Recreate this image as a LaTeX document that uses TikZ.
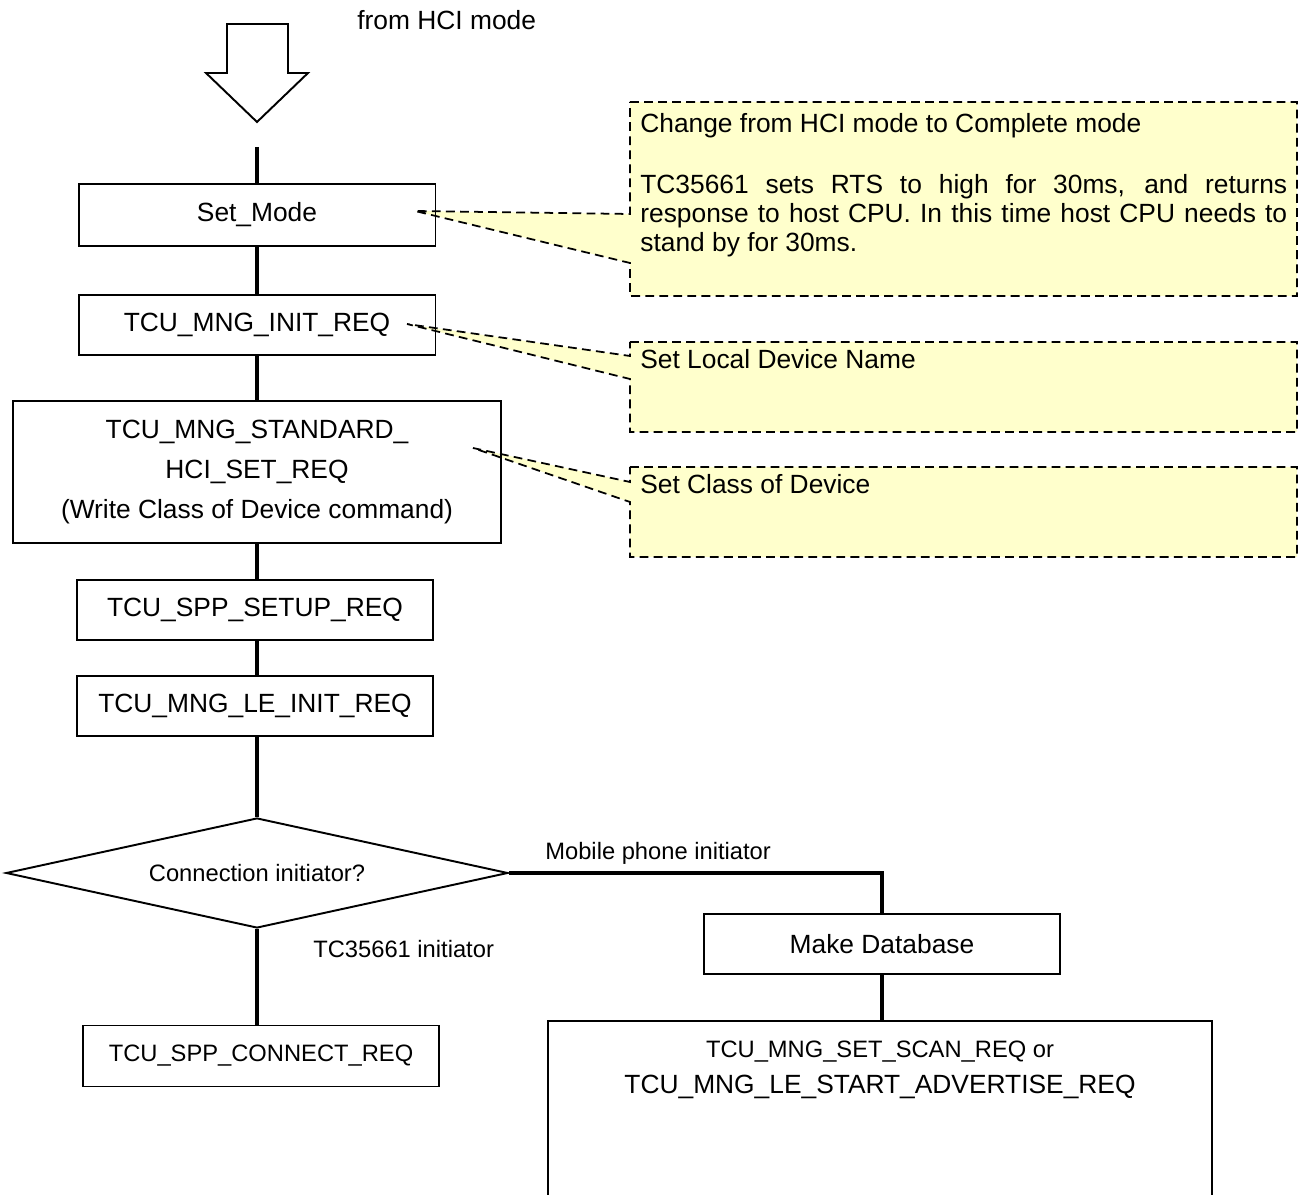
\documentclass[tikz,border=0pt]{standalone}
\usepackage{fontspec}
\setmainfont{Liberation Sans}
\definecolor{notefill}{RGB}{255, 255, 204}
\usetikzlibrary{shapes.geometric, positioning, calc}
\tikzset{
    procbox/.style={rectangle, draw=black, line width=1.1pt, inner sep=0pt,
                    minimum width=7.14cm, minimum height=1.2cm, align=center,
                    font=\fontsize{15}{18}\selectfont},
    decbox/.style={diamond, draw=black, line width=1.1pt, aspect=4.5, inner sep=0pt,
                   minimum width=10.04cm, minimum height=2.2cm,
                   font=\fontsize{13.5}{16}\selectfont},
    flowline/.style={line width=2.2pt, black},
    notebox/.style={fill=notefill, draw=black, line width=1pt, dash pattern=on 5pt off 3pt},
    notetext/.style={anchor=north west, inner sep=0pt, text width=12.94cm, align=justify,
                     font=\fontsize{15}{16.5}\selectfont},
    branchlabel/.style={inner sep=0pt, font=\fontsize{13.5}{16}\selectfont},
}

\begin{document}
\begin{tikzpicture}[x=0.02cm, y=-0.02cm]
            \useasboundingbox (0,0) rectangle (1299,1195);

            % notes
            \coordinate (tip1) at (415,211);
            \coordinate (tip2) at (407,324);
            \coordinate (tip3) at (473,448);
            \draw[notebox] (630,102) -- (1297,102) -- (1297,296) -- (630,296) -- (630,263) -- (tip1) -- (630,214) -- cycle;
            \draw[notebox] (630,342) -- (1297,342) -- (1297,432) -- (630,432) -- (630,379) -- (tip2) -- (630,356) -- cycle;
            \draw[notebox] (630,467) -- (1297,467) -- (1297,557) -- (630,557) -- (630,502) -- (tip3) -- (630,482) -- cycle;
            \node[notetext] (note1) at (640,113) {Change from HCI mode to Complete mode\\[18.5pt]
                TC35661 sets RTS to high for 30ms, and returns\linebreak response to host CPU. In this time host CPU needs to\linebreak stand by for 30ms.};
            \node[notetext] (note2) at (640,349) {Set Local Device Name};
            \node[notetext] (note3) at (640,474) {Set Class of Device};

            % entry arrow
            \draw[line width=1.1pt] (227,24) -- (288,24) -- (288,73) -- (308,73) -- (257,122) -- (206,73) -- (227,73) -- cycle;
            \node[anchor=west, inner sep=0pt, font=\fontsize{15}{18}\selectfont] (fromhci) at (357,20) {from HCI mode};
            \coordinate (entry) at (257,147);

            \node[procbox, minimum height=1.24cm] (setmode) at (257,215) {Set\_Mode};
            \node[procbox] (mnginit) at (257,325) {TCU\_MNG\_INIT\_REQ};
            \node[procbox, minimum width=9.75cm, minimum height=2.85cm, font=\fontsize{15}{22.7}\selectfont] (stdset) at (257,472) {TCU\_MNG\_STANDARD\_\\HCI\_SET\_REQ\\(Write Class of Device command)};
            \node[procbox, minimum width=7.13cm] (sppsetup) at (255,610) {TCU\_SPP\_SETUP\_REQ};
            \node[procbox, minimum width=7.13cm] (leinit) at (255,706) {TCU\_MNG\_LE\_INIT\_REQ};
            \node[decbox] (decide) at (257,873) {Connection initiator?};
            \node[procbox, minimum width=7.12cm, minimum height=1.22cm, font=\fontsize{13.5}{16}\selectfont] (connect) at (261,1056) {TCU\_SPP\_CONNECT\_REQ};
            \node[procbox, minimum width=7.11cm, minimum height=1.19cm] (makedb) at (882,944) {Make Database};
            \node[procbox, minimum width=13.27cm, minimum height=3.7cm, anchor=north] (scan) at (880,1020) {};
            \node[inner sep=0pt, align=center, font=\fontsize{15}{20.4}\selectfont] (scantext) at (880,1070) {{\fontsize{13.5}{20.4}\selectfont TCU\_MNG\_SET\_SCAN\_REQ or}\\TCU\_MNG\_LE\_START\_ADVERTISE\_REQ};

            \node[branchlabel, anchor=west] (mobilelbl) at (545,853) {Mobile phone initiator};
            \node[branchlabel, anchor=west] (tclbl) at (313,949) {TC35661 initiator};

            \draw[flowline] (entry) -- (entry |- setmode.north);
            \draw[flowline] (setmode.south -| entry) -- (entry |- mnginit.north);
            \draw[flowline] (mnginit.south -| entry) -- (entry |- stdset.north);
            \draw[flowline] (stdset.south -| entry) -- (entry |- sppsetup.north);
            \draw[flowline] (sppsetup.south -| entry) -- (entry |- leinit.north);
            \draw[flowline] (leinit.south -| entry) -- (decide.north);
            \draw[flowline] (decide.south) -- (decide.south |- connect.north);
            \draw[flowline] (decide.east) -| (makedb.north);
            \draw[flowline] (makedb.south) -- (makedb.south |- scan.north);
        \end{tikzpicture}
\end{document}
